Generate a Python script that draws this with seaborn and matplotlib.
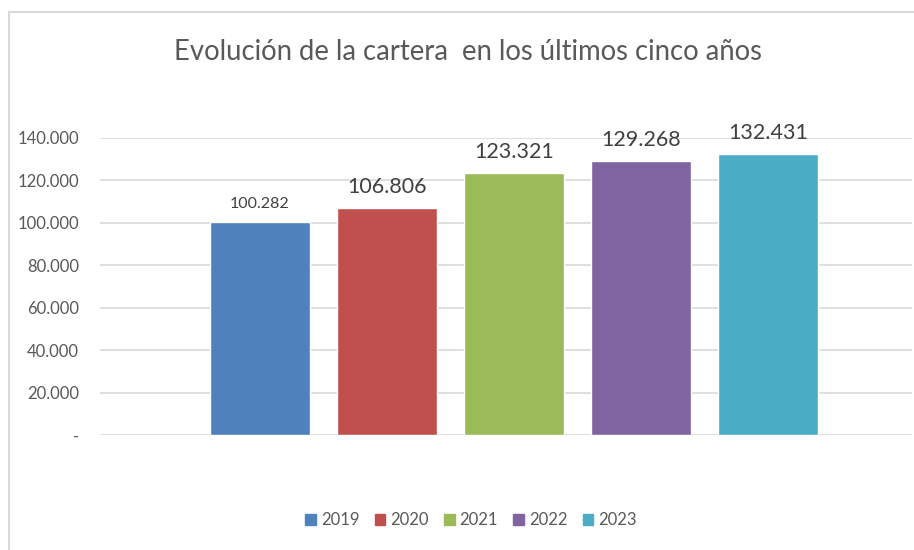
import numpy as np
import pandas as pd
import seaborn as sb
import matplotlib.pyplot as plt
from matplotlib.patches import Rectangle
from matplotlib.ticker import FuncFormatter

# datos de la cartera
years = ["2019", "2020", "2021", "2022", "2023"]
values = [100282, 106806, 123321, 129268, 132431]
colors = ["#4F81BD", "#C0504D", "#9BBB59", "#8064A2", "#4BACC6"]
label_sizes = [11.5, 15.5, 15.5, 15.5, 15.5]
title = "Evolución de la cartera  en los últimos cinco años"

GREY = "#595959"


def miles(v, pos=None):
    if v == 0:
        return "-"
    return f"{v:,.0f}".replace(",", ".")


sb.set_style("white")
plt.rcParams['font.family'] = ['Lato', 'DejaVu Sans']

df = pd.DataFrame({"year": years, "value": values})

fig = plt.figure(figsize=(9.14, 5.5), dpi=100)
ax = fig.add_axes([100 / 914, 1 - 435 / 550, 812 / 914, 297 / 550])

sb.barplot(data=df, x="year", y="value", hue="year", palette=colors,
           width=100 / 127, saturation=1, legend=False, ax=ax)

ax.set_xlim(-160 / 127, 652 / 127)
ax.set_ylim(0, 140000)
ax.set_yticks(np.arange(0, 140001, 20000))
ax.yaxis.set_major_formatter(FuncFormatter(miles))
ax.set_xticks([])
ax.set_xlabel("")
ax.set_ylabel("")
ax.grid(axis="y", color="#D9D9D9", linewidth=1.2)
ax.set_axisbelow(True)
for s in ax.spines.values():
    s.set_visible(False)
ax.tick_params(axis="y", colors=GREY, labelsize=12, length=0, pad=15)

for cont, size in zip(ax.containers, label_sizes):
    labels = ax.bar_label(cont, labels=[miles(v) for v in cont.datavalues],
                          fontsize=size, color="#404040", padding=8)
    for t in labels:
        t.set_clip_on(False)

fig.text(468 / 914, 1 - 52 / 550, title, ha="center", va="center",
         fontsize=19.8, color=GREY)

handles = [Rectangle((0, 0), 1, 1, color=c) for c in colors]
fig.legend(handles, years, loc="center", bbox_to_anchor=(471 / 914, 1 - 520 / 550),
           ncol=5, frameon=False, fontsize=12, handlelength=0.65, handleheight=0.65,
           handletextpad=0.3, columnspacing=0.9, labelcolor=GREY)

# borde del gráfico
fig.patches.append(Rectangle((9 / 914, -0.1), 1.1, 1 - 12 / 550 + 0.1,
                             transform=fig.transFigure, fill=False,
                             edgecolor="#D9D9D9", linewidth=1.5))

fig.savefig("out.png", dpi=100)
